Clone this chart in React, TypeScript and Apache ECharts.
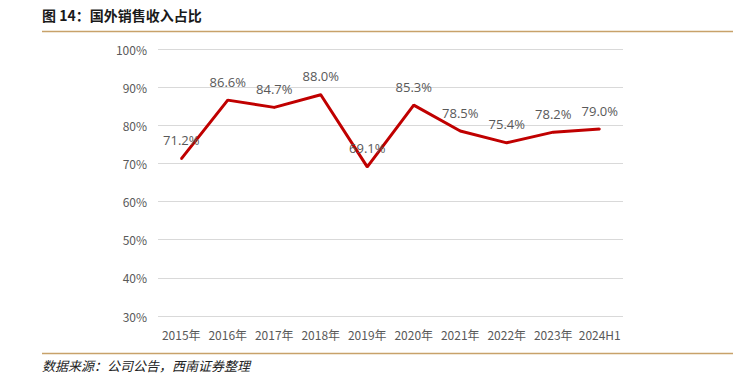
import React, { useEffect, useRef } from "react";
import * as echarts from "echarts";

const categories = ["2015年", "2016年", "2017年", "2018年", "2019年", "2020年", "2021年", "2022年", "2023年", "2024H1"];
const values = [71.2, 86.6, 84.7, 88.0, 69.1, 85.3, 78.5, 75.4, 78.2, 79.0];
const titleText = "图 14：国外销售收入占比";
const sourceText = "数据来源：公司公告，西南证券整理";

export default function App() {
  const ref = useRef<HTMLDivElement>(null);
  useEffect(() => {
    const chart = echarts.init(ref.current!, null, { renderer: "svg" });
    chart.setOption({
      animation: false,
      backgroundColor: "#ffffff",
      graphic: [
        {
          type: "text",
          left: 42,
          top: 8,
          style: { text: titleText, font: "bold 14px 'Noto Sans CJK SC', sans-serif", fill: "#1a1a1a" },
        },
        { type: "line", shape: { x1: 42, y1: 31.5, x2: 733, y2: 31.5 }, style: { stroke: "#c8a26a", lineWidth: 1.5 } },
        { type: "line", shape: { x1: 42, y1: 353.5, x2: 733, y2: 353.5 }, style: { stroke: "#c8a26a", lineWidth: 1.5 } },
        {
          type: "text",
          left: 42,
          top: 359,
          style: { text: sourceText, font: "italic 13px 'Noto Sans CJK SC', serif", fill: "#222" },
        },
      ],
      grid: { left: 158, right: 115, top: 49, bottom: 68, containLabel: false },
      xAxis: {
        type: "category",
        data: categories,
        boundaryGap: true,
        axisLine: { show: false },
        axisTick: { show: false },
        axisLabel: { color: "#595959", fontSize: 12, margin: 12, fontFamily: "'Noto Sans CJK SC', sans-serif", interval: 0 },
      },
      yAxis: {
        type: "value",
        min: 30,
        max: 100,
        interval: 10,
        axisLine: { show: false },
        axisTick: { show: false },
        axisLabel: { color: "#595959", fontSize: 12, margin: 11, formatter: "{value}%", fontFamily: "'Noto Sans CJK SC', sans-serif" },
        splitLine: { lineStyle: { color: "#d9d9d9", width: 1 } },
      },
      series: [
        {
          type: "line",
          data: values,
          symbol: "circle",
          symbolSize: 2,
          showSymbol: true,
          showAllSymbol: true,
          lineStyle: { color: "#c00000", width: 3 },
          itemStyle: { color: "#c00000" },
          label: {
            show: true,
            position: "top",
            distance: 11,
            color: "#595959",
            fontSize: 13,
            fontFamily: "'Open Sans', sans-serif",
            formatter: (p: any) => Number(p.value).toFixed(1) + "%",
          },
        },
      ],
    });
    return () => chart.dispose();
  }, []);
  return <div ref={ref} style={{ position: "absolute", left: 0, top: 0, width: 738, height: 384 }} />;
}
